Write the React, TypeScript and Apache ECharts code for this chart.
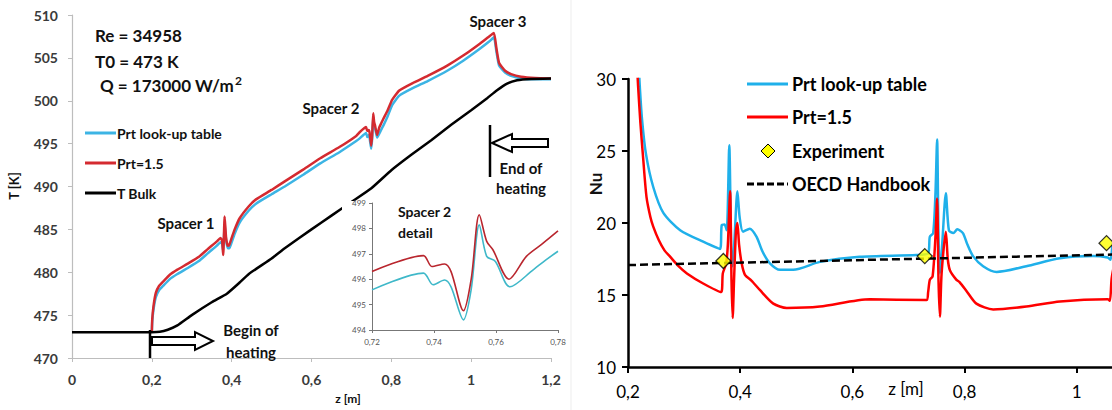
import React, { useEffect, useRef } from "react";
import * as echarts from "echarts";

const FONT = "Lato, 'Open Sans', sans-serif";

// ---------- Left chart: wall temperature T [K] vs z [m] ----------
const tempPrtTable: [number, number][] = [
  [0.2, 473], [0.201, 474.2], [0.204, 475.6], [0.21, 477.1], [0.218, 477.9], [0.228, 478.4],
  [0.245, 479.2], [0.264, 479.8], [0.29, 480.5], [0.318, 481.3], [0.34, 482.2], [0.363, 483.1],
  [0.372, 483.5], [0.376, 483.3], [0.3788, 482.5], [0.3824, 485.6], [0.386, 483.8], [0.39, 482.8],
  [0.394, 482.8], [0.4, 483.5], [0.4075, 484.5], [0.42, 485.8], [0.443, 487.2], [0.461, 488.0],
  [0.5, 489.1], [0.533, 490.0], [0.58, 491.4], [0.622, 492.7], [0.67, 494.0], [0.712, 495.3],
  [0.72, 495.58], [0.7366, 496.24], [0.7397, 495.78], [0.7434, 495.97], [0.7455, 495.7],
  [0.7495, 494.4], [0.752, 495.6], [0.7546, 498.14], [0.757, 496.9], [0.7598, 496.7],
  [0.7645, 495.7], [0.772, 496.37], [0.776, 496.75], [0.78, 497.1], [0.79, 498.1], [0.802, 499.5],
  [0.82, 500.6], [0.855, 501.5], [0.891, 502.3], [0.94, 503.5], [0.981, 504.7], [1.02, 506.0],
  [1.045, 506.9], [1.057, 507.4], [1.063, 505.8], [1.07, 504.1], [1.085, 503.3], [1.1, 502.9],
  [1.125, 502.6], [1.16, 502.5], [1.2, 502.5],
];
const tempPrt15: [number, number][] = [
  [0.2, 473], [0.201, 474.5], [0.204, 476.0], [0.21, 477.6], [0.218, 478.4], [0.228, 478.9],
  [0.245, 479.7], [0.264, 480.3], [0.29, 481.0], [0.318, 481.8], [0.34, 482.7], [0.363, 483.6],
  [0.372, 484.0], [0.376, 483.7], [0.3788, 482.0], [0.3824, 486.5], [0.386, 484.0], [0.39, 483.1],
  [0.394, 483.2], [0.4, 484.0], [0.4075, 485.0], [0.42, 486.3], [0.443, 487.7], [0.461, 488.5],
  [0.5, 489.6], [0.533, 490.6], [0.58, 492.0], [0.622, 493.3], [0.67, 494.6], [0.712, 495.9],
  [0.72, 496.3], [0.7366, 496.93], [0.7393, 496.5], [0.7434, 496.6], [0.7455, 496.3],
  [0.7495, 494.76], [0.752, 496.0], [0.7546, 498.54], [0.757, 497.49], [0.759, 497.16],
  [0.7642, 496.0], [0.7698, 496.9], [0.775, 497.4], [0.78, 497.9], [0.79, 498.8], [0.802, 500.1],
  [0.82, 501.2], [0.855, 502.1], [0.891, 502.9], [0.94, 504.1], [0.981, 505.3], [1.02, 506.6],
  [1.045, 507.5], [1.057, 507.9], [1.063, 506.2], [1.07, 504.4], [1.085, 503.5], [1.1, 503.1],
  [1.125, 502.8], [1.16, 502.65], [1.2, 502.6],
];
const tempBulk: [number, number][] = [
  [0, 473], [0.2, 473], [0.22, 473.05], [0.24, 473.3], [0.264, 473.8], [0.3, 475.0], [0.35, 476.5],
  [0.388, 477.5], [0.42, 478.8], [0.443, 479.8], [0.5, 481.6], [0.533, 482.8], [0.6, 485.0],
  [0.65, 486.6], [0.7, 488.2], [0.75, 489.8], [0.8, 491.9], [0.85, 493.7], [0.9, 495.4],
  [0.95, 497.2], [1.0, 498.9], [1.04, 500.3], [1.064, 501.2], [1.09, 502.0], [1.115, 502.4],
  [1.15, 502.55], [1.2, 502.6],
];

// ---------- Right chart: Nu vs z [m] ----------
const nuPrtTable: [number, number][] = [
  [0.219, 31], [0.221, 29.5], [0.225, 27.2], [0.232, 24.8], [0.245, 22.5], [0.263, 20.7],
  [0.293, 19.5], [0.334, 18.7], [0.364, 18.2], [0.367, 19.85], [0.372, 19.9], [0.376, 19.5],
  [0.3805, 25.4], [0.384, 18.2], [0.3866, 17.0], [0.39, 19.0], [0.395, 22.2], [0.399, 20.4],
  [0.405, 19.4], [0.417, 19.6], [0.429, 19.05], [0.44, 18.0], [0.453, 17.2], [0.471, 16.75],
  [0.4945, 16.75], [0.542, 17.3], [0.613, 17.66], [0.714, 17.78], [0.735, 17.9], [0.738, 19.05],
  [0.744, 19.3], [0.748, 22.0], [0.751, 25.8], [0.7535, 19.0], [0.756, 16.5], [0.76, 18.5],
  [0.7666, 22.06], [0.772, 19.5], [0.78, 19.3], [0.787, 19.56], [0.797, 19.3], [0.805, 18.5],
  [0.815, 17.7], [0.833, 17.0], [0.857, 16.6], [0.91, 17.0], [0.97, 17.55], [1.029, 17.7],
  [1.055, 17.6], [1.06, 17.45], [1.064, 18.6], [1.07, 19.5],
];
const nuPrt15: [number, number][] = [
  [0.216, 31], [0.218, 29.5], [0.222, 27.0], [0.227, 24.5], [0.233, 21.8], [0.24, 20.4],
  [0.245, 19.75], [0.255, 18.8], [0.265, 18.1], [0.275, 17.66], [0.29, 17.0], [0.305, 16.5],
  [0.334, 15.8], [0.366, 15.2], [0.369, 16.5], [0.375, 17.2], [0.378, 18.5], [0.382, 22.2],
  [0.3845, 16.0], [0.3866, 13.4], [0.389, 16.0], [0.3925, 19.5], [0.395, 20.0], [0.398, 18.5],
  [0.4026, 17.2], [0.4085, 16.4], [0.42, 16.0], [0.435, 15.35], [0.459, 14.4], [0.483, 14.1],
  [0.542, 14.2], [0.631, 14.7], [0.732, 14.65], [0.735, 15.2], [0.738, 16.05], [0.743, 16.3],
  [0.748, 19.0], [0.751, 21.7], [0.7535, 16.0], [0.756, 13.5], [0.759, 16.5], [0.7666, 19.4],
  [0.77, 17.5], [0.774, 16.7], [0.7855, 16.05], [0.791, 15.9], [0.803, 15.3], [0.821, 14.4],
  [0.851, 14.0], [0.91, 14.2], [0.97, 14.55], [1.055, 14.7], [1.059, 14.6], [1.062, 16.1],
  [1.066, 17.0],
];
const nuOecd: [number, number][] = [[0.2, 17.08], [1.2, 17.92]];
const nuExperiment: [number, number][] = [[0.37, 17.36], [0.729, 17.7], [1.053, 18.6]];

const fmtComma = (v: number) => String(Number(Number(v).toFixed(2))).replace(".", ",");
// the right panel is cropped just after z = 1.06, so its 1,2 label is not visible
const fmtCommaRight = (v: number) => (v > 1.1 ? "" : fmtComma(v));

const insetPart = (d: [number, number][]) => d.filter(([z]) => z >= 0.72 && z <= 0.78);

const txt = (
  text: string,
  x: number,
  y: number,
  size: number,
  opts: { weight?: string; align?: string; color?: string; rotation?: number } = {}
) => ({
  type: "text",
  x,
  y,
  rotation: opts.rotation || 0,
  z: 20,
  silent: true,
  style: {
    text,
    fill: opts.color || "#111",
    font: `${opts.weight || "bold"} ${size}px ${FONT}`,
    align: opts.align || "left",
    textAlign: opts.align || "left",
    verticalAlign: "middle",
    textVerticalAlign: "middle",
  },
});

const hline = (x1: number, x2: number, y: number, color: string, width: number, dash?: number[]) => ({
  type: "line",
  z: 20,
  silent: true,
  shape: { x1, y1: y, x2, y2: y },
  style: { stroke: color, lineWidth: width, lineDash: dash || null },
});

export default function App() {
  const ref = useRef<HTMLDivElement>(null);

  useEffect(() => {
    if (!ref.current) return;
    const chart = echarts.init(ref.current, undefined, { renderer: "svg" });

    const leftAxisLine = { lineStyle: { color: "#bdbdbd", width: 1.2 } };
    const leftLabel = { fontFamily: FONT, fontSize: 14, fontWeight: "bold", color: "#3a3a3a" };
    const insetLabel = { fontFamily: FONT, fontSize: 8, color: "#555" };
    const rightLabel = { fontFamily: FONT, fontSize: 17, color: "#000" };

    const option: any = {
      animation: false,
      backgroundColor: "#fff",
      grid: [
        { left: 72, top: 15, width: 479, height: 343 },
        { left: 372, top: 203, width: 186, height: 127 },
        { left: 628, top: 79, width: 561, height: 288 },
      ],
      xAxis: [
        {
          type: "value", gridIndex: 0, min: 0, max: 1.2, interval: 0.2,
          axisLine: leftAxisLine,
          axisTick: { show: true, length: 4, lineStyle: { color: "#bdbdbd" } },
          splitLine: { show: false },
          axisLabel: { ...leftLabel, margin: 14, formatter: fmtComma },
        },
        {
          type: "value", gridIndex: 1, min: 0.72, max: 0.78, interval: 0.02, z: 10,
          axisLine: { lineStyle: { color: "#777", width: 1 } },
          axisTick: { show: true, length: 3, lineStyle: { color: "#777" } },
          splitLine: { show: false },
          axisLabel: { ...insetLabel, margin: 8, formatter: fmtComma },
        },
        {
          type: "value", gridIndex: 2, min: 0.2, max: 1.2, interval: 0.2,
          axisLine: { lineStyle: { color: "#000", width: 2.5 } },
          axisTick: { show: true, length: 6, lineStyle: { color: "#000", width: 2 } },
          splitLine: { show: false },
          axisLabel: { ...rightLabel, margin: 16, formatter: fmtCommaRight },
        },
      ],
      yAxis: [
        {
          type: "value", gridIndex: 0, min: 470, max: 510, interval: 5,
          axisLine: { show: true, ...leftAxisLine },
          axisTick: { show: true, length: 4, lineStyle: { color: "#bdbdbd" } },
          splitLine: { show: false },
          axisLabel: { ...leftLabel, margin: 14 },
        },
        {
          type: "value", gridIndex: 1, min: 494, max: 499, interval: 1, z: 10,
          axisLine: { show: true, lineStyle: { color: "#777", width: 1 } },
          axisTick: { show: true, length: 3, lineStyle: { color: "#777" } },
          splitLine: { show: false },
          axisLabel: { ...insetLabel, margin: 6 },
        },
        {
          type: "value", gridIndex: 2, min: 10, max: 30, interval: 5,
          axisLine: { show: true, lineStyle: { color: "#000", width: 2.5 } },
          axisTick: { show: true, length: 6, lineStyle: { color: "#000", width: 2 } },
          splitLine: { show: false },
          axisLabel: { ...rightLabel, margin: 12 },
        },
      ],
      series: [
        {
          name: "Prt look-up table", type: "line", xAxisIndex: 0, yAxisIndex: 0, data: tempPrtTable,
          showSymbol: false, smooth: 0.15, lineStyle: { color: "#3cb4e4", width: 2.5 }, z: 2,
        },
        {
          name: "Prt=1.5", type: "line", xAxisIndex: 0, yAxisIndex: 0, data: tempPrt15,
          showSymbol: false, smooth: 0.15, lineStyle: { color: "#d42a30", width: 2.5 }, z: 2,
        },
        {
          name: "T Bulk", type: "line", xAxisIndex: 0, yAxisIndex: 0, data: tempBulk,
          showSymbol: false, smooth: 0.15, lineStyle: { color: "#000", width: 2.5 }, z: 2,
        },
        {
          name: "Prt look-up table (detail)", type: "line", xAxisIndex: 1, yAxisIndex: 1,
          data: insetPart(tempPrtTable), showSymbol: false, smooth: 0.3,
          lineStyle: { color: "#3fb8c9", width: 1.6 }, z: 10,
        },
        {
          name: "Prt=1.5 (detail)", type: "line", xAxisIndex: 1, yAxisIndex: 1,
          data: insetPart(tempPrt15), showSymbol: false, smooth: 0.3,
          lineStyle: { color: "#b9262e", width: 1.6 }, z: 10,
        },
        {
          name: "Nu Prt look-up table", type: "line", xAxisIndex: 2, yAxisIndex: 2, data: nuPrtTable,
          showSymbol: false, smooth: 0.25, lineStyle: { color: "#1fb0ea", width: 2.5 }, z: 2,
        },
        {
          name: "Nu Prt=1.5", type: "line", xAxisIndex: 2, yAxisIndex: 2, data: nuPrt15,
          showSymbol: false, smooth: 0.25, lineStyle: { color: "#ff0000", width: 2.5 }, z: 3,
        },
        {
          name: "OECD Handbook", type: "line", xAxisIndex: 2, yAxisIndex: 2, data: nuOecd,
          showSymbol: false, lineStyle: { color: "#000", width: 2.5, type: [8, 4] }, z: 4,
        },
        {
          name: "Experiment", type: "scatter", xAxisIndex: 2, yAxisIndex: 2, data: nuExperiment,
          symbol: "diamond", symbolSize: 15,
          itemStyle: { color: "#ffff00", borderColor: "#000", borderWidth: 1.3 }, z: 5,
        },
      ],
      graphic: [
        { type: "line", z: 1, silent: true, shape: { x1: 571, y1: 0, x2: 571, y2: 410 }, style: { stroke: "#ededed", lineWidth: 1 } },
        { type: "rect", z: 3, silent: true, shape: { x: 342, y: 201, width: 218, height: 155 }, style: { fill: "#fff" } },
        txt("Re = 34958", 95, 35, 17),
        txt("T0 = 473 K", 95, 61, 17),
        txt("Q = 173000 W/m", 100, 85, 17),
        txt("2", 235, 80, 12),
        txt("Spacer 1", 186, 223, 15, { align: "center" }),
        txt("Spacer 2", 331, 108, 15, { align: "center" }),
        txt("Spacer 3", 498, 21, 15, { align: "center" }),
        txt("Begin of", 251, 330, 15, { align: "center" }),
        txt("heating", 251, 352, 15, { align: "center" }),
        txt("End of", 521, 168, 15, { align: "center" }),
        txt("heating", 521, 188, 15, { align: "center" }),
        txt("Spacer 2", 398, 211, 14),
        txt("detail", 398, 232, 14),
        txt("T [K]", 14, 186, 13, { align: "center", rotation: Math.PI / 2 }),
        txt("z [m]", 348, 398, 12, { align: "center" }),
        { type: "line", z: 20, silent: true, shape: { x1: 150, y1: 330, x2: 150, y2: 358 }, style: { stroke: "#000", lineWidth: 2.5 } },
        {
          type: "polygon", z: 20, silent: true,
          shape: { points: [[152, 337], [195, 337], [195, 332], [213, 341], [195, 350], [195, 345], [152, 345]] },
          style: { fill: "#fff", stroke: "#000", lineWidth: 2 },
        },
        { type: "line", z: 20, silent: true, shape: { x1: 490, y1: 125, x2: 490, y2: 177 }, style: { stroke: "#000", lineWidth: 2.5 } },
        {
          type: "polygon", z: 20, silent: true,
          shape: { points: [[492, 143], [512, 134], [512, 139], [548, 139], [548, 147], [512, 147], [512, 152]] },
          style: { fill: "#fff", stroke: "#000", lineWidth: 2 },
        },
        hline(85, 116, 133, "#3cb4e4", 3),
        hline(85, 116, 163, "#d42a30", 3),
        hline(85, 116, 193, "#000", 3),
        txt("Prt look-up table", 117, 133, 14),
        txt("Prt=1.5", 117, 163, 14),
        txt("T Bulk", 117, 193, 14),
        txt("Nu", 595, 184, 17, { align: "center", rotation: Math.PI / 2 }),
        txt("z [m]", 906, 388, 17, { align: "center", weight: "normal", color: "#000" }),
        hline(747, 788, 84, "#1fb0ea", 3),
        hline(747, 788, 117, "#ff0000", 3),
        {
          type: "polygon", z: 20, silent: true,
          shape: { points: [[768, 144], [775, 151], [768, 158], [761, 151]] },
          style: { fill: "#ffff00", stroke: "#000", lineWidth: 1 },
        },
        hline(747, 788, 184, "#000", 3, [7, 3]),
        txt("Prt look-up table", 792, 84, 18, { color: "#000" }),
        txt("Prt=1.5", 792, 117, 18, { color: "#000" }),
        txt("Experiment", 792, 151, 18, { color: "#000" }),
        txt("OECD Handbook", 792, 184, 18, { color: "#000" }),
      ],
    };

    chart.setOption(option);
    return () => chart.dispose();
  }, []);

  return (
    <div
      style={{ position: "absolute", left: 0, top: 0, width: 1112, height: 410, overflow: "hidden", background: "#fff" }}
    >
      <div ref={ref} style={{ width: 1200, height: 410 }} />
    </div>
  );
}
